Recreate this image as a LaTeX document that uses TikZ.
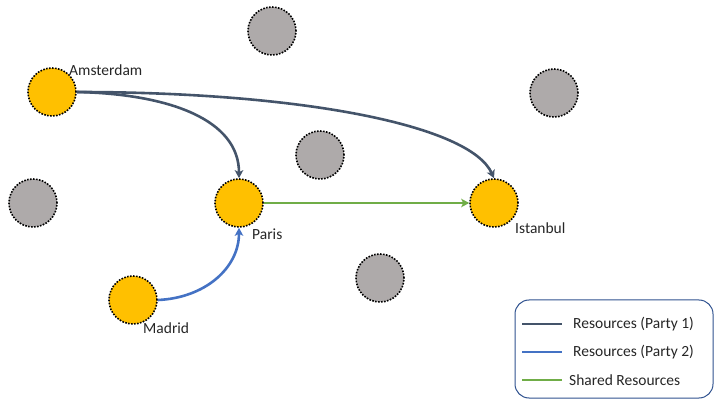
\documentclass[tikz,border=0pt]{standalone}
\usepackage{fontspec}
\setmainfont{Carlito}
\usetikzlibrary{arrows.meta}
\definecolor{cityfill}{HTML}{FFC000}
\definecolor{grayfill}{HTML}{AEAAAA}
\definecolor{pone}{HTML}{44546A}
\definecolor{ptwo}{HTML}{4472C4}
\definecolor{shared}{HTML}{70AD47}
\definecolor{legbord}{HTML}{2F528F}
\definecolor{txt}{HTML}{262626}
\begin{document}
\begin{tikzpicture}[x=1pt,y=-1pt,
  site/.style={circle,minimum size=48pt,inner sep=0pt,draw=black,line width=1.6pt,dash pattern=on 1.6pt off 1.4pt},
  city/.style={site,fill=cityfill},
  idle/.style={site,fill=grayfill},
  lbl/.style={anchor=west,inner sep=0pt,text=txt,font=\fontsize{15.5}{18}\selectfont},
  conn/.style={line width=2.6pt,-{Stealth[length=8pt,width=8.5pt,inset=2pt]}},
  legline/.style={line width=2.6pt},
  legtxt/.style={anchor=west,inner sep=0pt,text=txt,font=\fontsize{15.5}{18}\selectfont}]
\useasboundingbox (0,0) rectangle (715,403);
% gray sites
\node[idle] (g1) at (272,31) {};
\node[idle] (g2) at (554,93) {};
\node[idle] (g3) at (320,155) {};
\node[idle] (g4) at (33,203) {};
\node[idle] (g5) at (380,278) {};
% city sites
\node[city] (ams) at (52,92) {};
\node[city] (par) at (239,203) {};
\node[city] (ist) at (494,203) {};
\node[city] (mad) at (133,300) {};
% labels
\node[lbl] (lams) at (69,70) {Amsterdam};
\node[lbl] (lpar) at (252,234) {Paris};
\node[lbl] (list) at (515,228) {Istanbul};
\node[lbl] (lmad) at (143,328) {Madrid};
% connectors
\draw[conn,pone] (ams.east) .. controls (170,94) and (239,120) .. (par.north);
\draw[conn,pone] (ams.east) .. controls (300,92) and (470,125) .. (ist.north);
\draw[conn,shared] (par.east) -- (ist.west);
\draw[conn,ptwo] (mad.east) .. controls (205,298) and (239,268) .. (par.south);
% legend
\node[draw=legbord,line width=1pt,rounded corners=14pt,minimum width=198pt,minimum height=98pt,inner sep=0pt] (leg) at (614,349) {};
\coordinate (a1) at (522,324); \coordinate (b1) at (562,324);
\coordinate (a2) at (522,352); \coordinate (b2) at (562,352);
\coordinate (a3) at (522,380); \coordinate (b3) at (562,380);
\draw[legline,pone] (a1) -- (b1);
\draw[legline,ptwo] (a2) -- (b2);
\draw[legline,shared] (a3) -- (b3);
\node[legtxt] (t1) at (573,324) {Resources (Party 1)};
\node[legtxt] (t2) at (573,352) {Resources (Party 2)};
\node[legtxt] (t3) at (569,380) {Shared Resources};
\end{tikzpicture}
\end{document}
